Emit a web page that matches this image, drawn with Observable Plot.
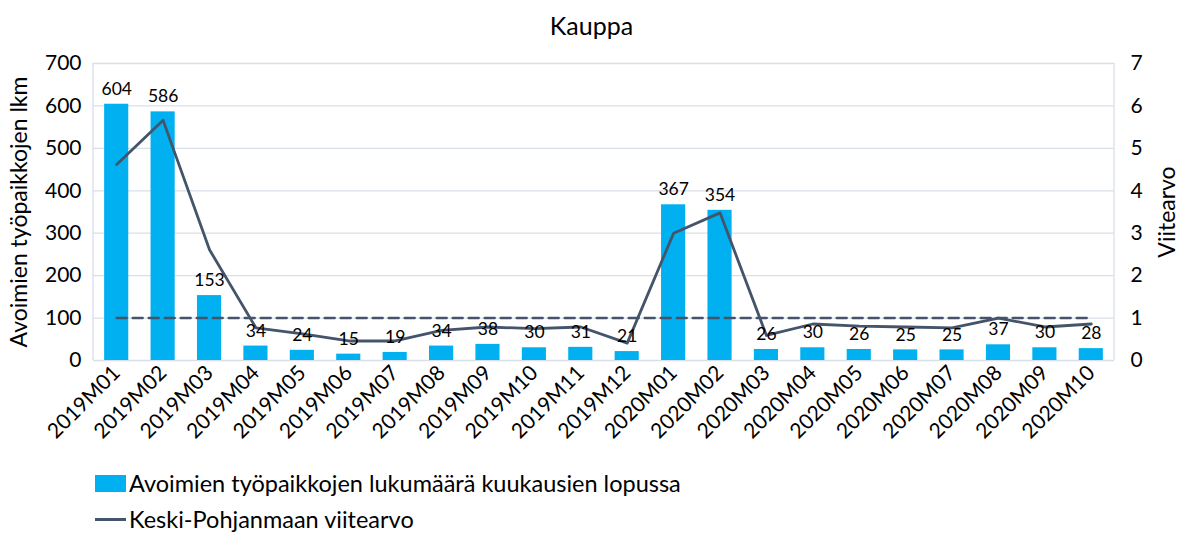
<!DOCTYPE html>
<html><head><meta charset="utf-8">
<script src="https://cdn.jsdelivr.net/npm/d3@7"></script>
<script src="https://cdn.jsdelivr.net/npm/@observablehq/plot@0.6"></script>
<style>
body{margin:0;background:#fff;font-family:Lato,"Open Sans",sans-serif;overflow:hidden;}
#title{height:50px;line-height:50px;text-align:center;font-size:25px;color:#000;}
#legend{margin-left:95px;margin-top:10px;font-size:23.5px;color:#000;}
.li{display:flex;align-items:center;height:36px;}
.sw{width:31px;height:17px;background:#00b0f0;margin-right:3px;}
.ln{width:31px;height:3px;background:#44546a;margin-right:3px;}
</style></head>
<body>
<div id="title">Kauppa</div>
<div id="chart"></div>
<div id="legend">
<div class="li"><div class="sw"></div>Avoimien työpaikkojen lukumäärä kuukausien lopussa</div>
<div class="li"><div class="ln"></div>Keski-Pohjanmaan viitearvo</div>
</div>
<script>
const months = ["2019M01","2019M02","2019M03","2019M04","2019M05","2019M06","2019M07","2019M08","2019M09","2019M10","2019M11","2019M12","2020M01","2020M02","2020M03","2020M04","2020M05","2020M06","2020M07","2020M08","2020M09","2020M10"];
const openings = [604,586,153,34,24,15,19,34,38,30,31,21,367,354,26,30,26,25,25,37,30,28];
const reference = [4.62,5.66,2.61,0.77,0.63,0.46,0.46,0.71,0.79,0.75,0.79,0.41,3.0,3.48,0.59,0.86,0.81,0.79,0.77,1.0,0.79,0.86];
const threshold = 1;
const leftTicks = [0,100,200,300,400,500,600,700];
const leftTitle = "Avoimien työpaikkojen lkm";
const rightTitle = "Viitearvo";

const data = months.map((m,i)=>({m, v:openings[i], r:reference[i]}));
const ratio = 100;

const plot = Plot.plot({
  width:1183, height:405,
  marginLeft:93, marginRight:69, marginTop:13, marginBottom:95,
  style:{fontFamily:"Lato, 'Open Sans', sans-serif", color:"#000", background:"#fff"},
  x:{domain:months, paddingInner:0.48, paddingOuter:0.24, round:false},
  y:{domain:[0,700]},
  marks:[
    Plot.gridY(leftTicks,{stroke:"#d9dfe8", strokeOpacity:1, strokeWidth:1.3}),
    Plot.axisY(leftTicks,{anchor:"left", tickSize:0, tickPadding:12, fontSize:21, label:null}),
    Plot.axisY(leftTicks,{anchor:"right", tickSize:0, tickPadding:16, fontSize:21, tickFormat:d=>d/ratio, label:null}),
    Plot.text([leftTitle],{frameAnchor:"left", textAnchor:"middle", rotate:-90, dx:-74, fontSize:23, fill:"#000"}),
    Plot.text([rightTitle],{frameAnchor:"right", textAnchor:"middle", rotate:-90, dx:53, fontSize:23, fill:"#000"}),
    Plot.axisX({tickSize:0, tickRotate:-45, fontSize:21, tickPadding:9, label:null}),
    Plot.barY(data,{x:"m", y:"v", fill:"#00b0f0"}),
    Plot.lineY(data,{x:"m", y:()=>threshold*ratio, stroke:"#44546a", strokeWidth:2.4, strokeDasharray:"10,6"}),
    Plot.lineY(data,{x:"m", y:d=>d.r*ratio, stroke:"#44546a", strokeWidth:2.8}),
    Plot.text(data,{x:"m", y:"v", text:d=>String(d.v), dy:-15, fontSize:17.5, fill:"#000"})
  ]
});
document.getElementById("chart").append(plot);
const svg = d3.select(plot);
svg.insert("line",":first-child").attr("x1",93).attr("x2",93).attr("y1",13).attr("y2",310).attr("stroke","#d9dfe8").attr("stroke-width",1.3);
svg.insert("line",":first-child").attr("x1",1114).attr("x2",1114).attr("y1",13).attr("y2",310).attr("stroke","#d9dfe8").attr("stroke-width",1.3);
</script>
</body></html>
